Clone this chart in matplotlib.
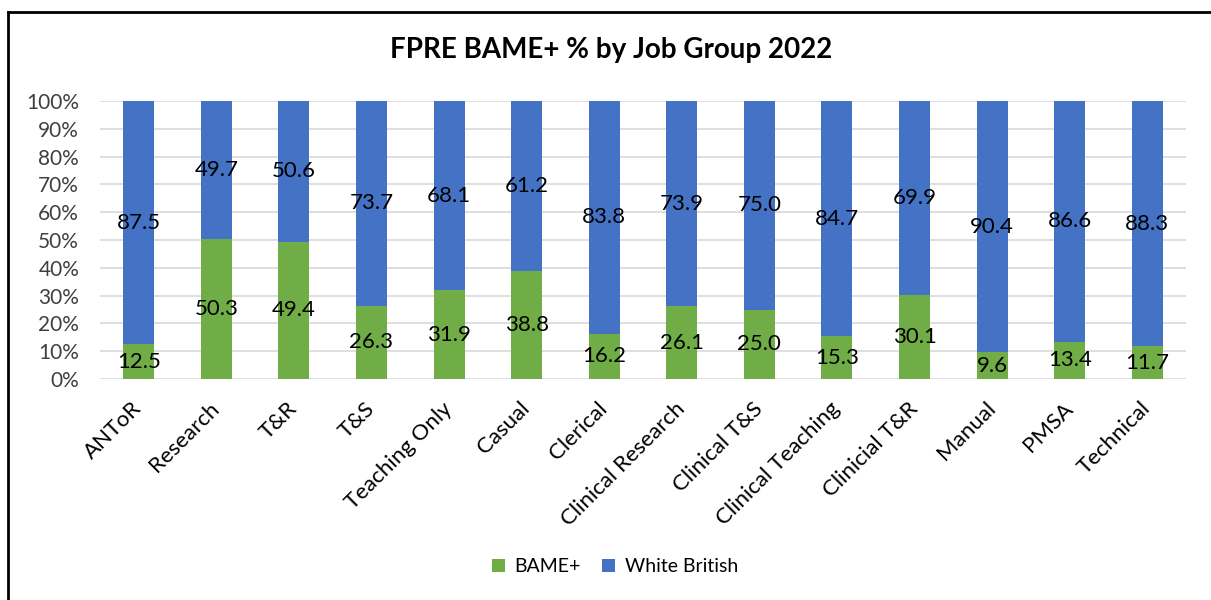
import matplotlib
matplotlib.use("Agg")
import matplotlib.pyplot as plt
from matplotlib.lines import Line2D
import numpy as np

# data
job_groups = ["ANToR", "Research", "T&R", "T&S", "Teaching Only", "Casual",
              "Clerical", "Clinical Research", "Clinical T&S", "Clinical Teaching",
              "Clinicial T&R", "Manual", "PMSA", "Technical"]
bame = [12.5, 50.3, 49.4, 26.3, 31.9, 38.8, 16.2, 26.1, 25.0, 15.3, 30.1, 9.6, 13.4, 11.7]
white_british = [87.5, 49.7, 50.6, 73.7, 68.1, 61.2, 83.8, 73.9, 75.0, 84.7, 69.9, 90.4, 86.6, 88.3]

GREEN = "#70AD47"
BLUE = "#4472C4"

plt.rcParams["font.family"] = ["Lato", "DejaVu Sans"]

fig = plt.figure(figsize=(12.11, 6), dpi=100)
ax = fig.add_axes([100 / 1211, 221 / 600, 1086 / 1211, 278 / 600])

x = np.arange(len(job_groups))
b1 = ax.bar(x, bame, width=0.4, color=GREEN, label="BAME+", zorder=3)
b2 = ax.bar(x, white_british, width=0.4, bottom=bame, color=BLUE,
            label="White British", zorder=3)

ax.bar_label(b1, labels=[f"{v:.1f}" for v in bame], label_type="center", fontsize=16, color="black")
ax.bar_label(b2, labels=[f"{v:.1f}" for v in white_british], label_type="center", fontsize=16, color="black")

ax.set_xlim(-0.5, len(job_groups) - 0.5)
ax.set_ylim(0, 100)
ax.set_yticks(np.arange(0, 101, 10))
ax.set_yticklabels([f"{v}%" for v in range(0, 101, 10)], fontsize=15, color="#404040")
ax.set_xticks(x)
ax.set_xticklabels(job_groups, rotation=45, ha="right", va="center", rotation_mode="anchor",
                   fontsize=16, color="black")
ax.tick_params(axis="x", length=0, pad=19)
ax.tick_params(axis="y", length=0, pad=15)
ax.grid(axis="y", color="#D9D9D9", linewidth=1.2, zorder=0)
for s in ax.spines.values():
    s.set_visible(False)

fig.text(611 / 1211, 1 - 50 / 600, "FPRE BAME+ % by Job Group 2022", ha="center", va="center",
         fontsize=20, fontweight="bold")

fig.legend(handles=[b1, b2], loc="center", bbox_to_anchor=(615 / 1211, 1 - 567 / 600), ncol=2,
           frameon=False, fontsize=14, handlelength=0.65, handleheight=0.65,
           handletextpad=0.5, columnspacing=1.1)

# frame (only top and left edges are visible in the reference)
fig.add_artist(Line2D([8 / 1211, 1], [1 - 12 / 600, 1 - 12 / 600], color="black", linewidth=2,
                      transform=fig.transFigure))
fig.add_artist(Line2D([8 / 1211, 8 / 1211], [0, 1 - 12 / 600], color="black", linewidth=2,
                      transform=fig.transFigure))

fig.savefig("out.png", dpi=100, facecolor="white")
